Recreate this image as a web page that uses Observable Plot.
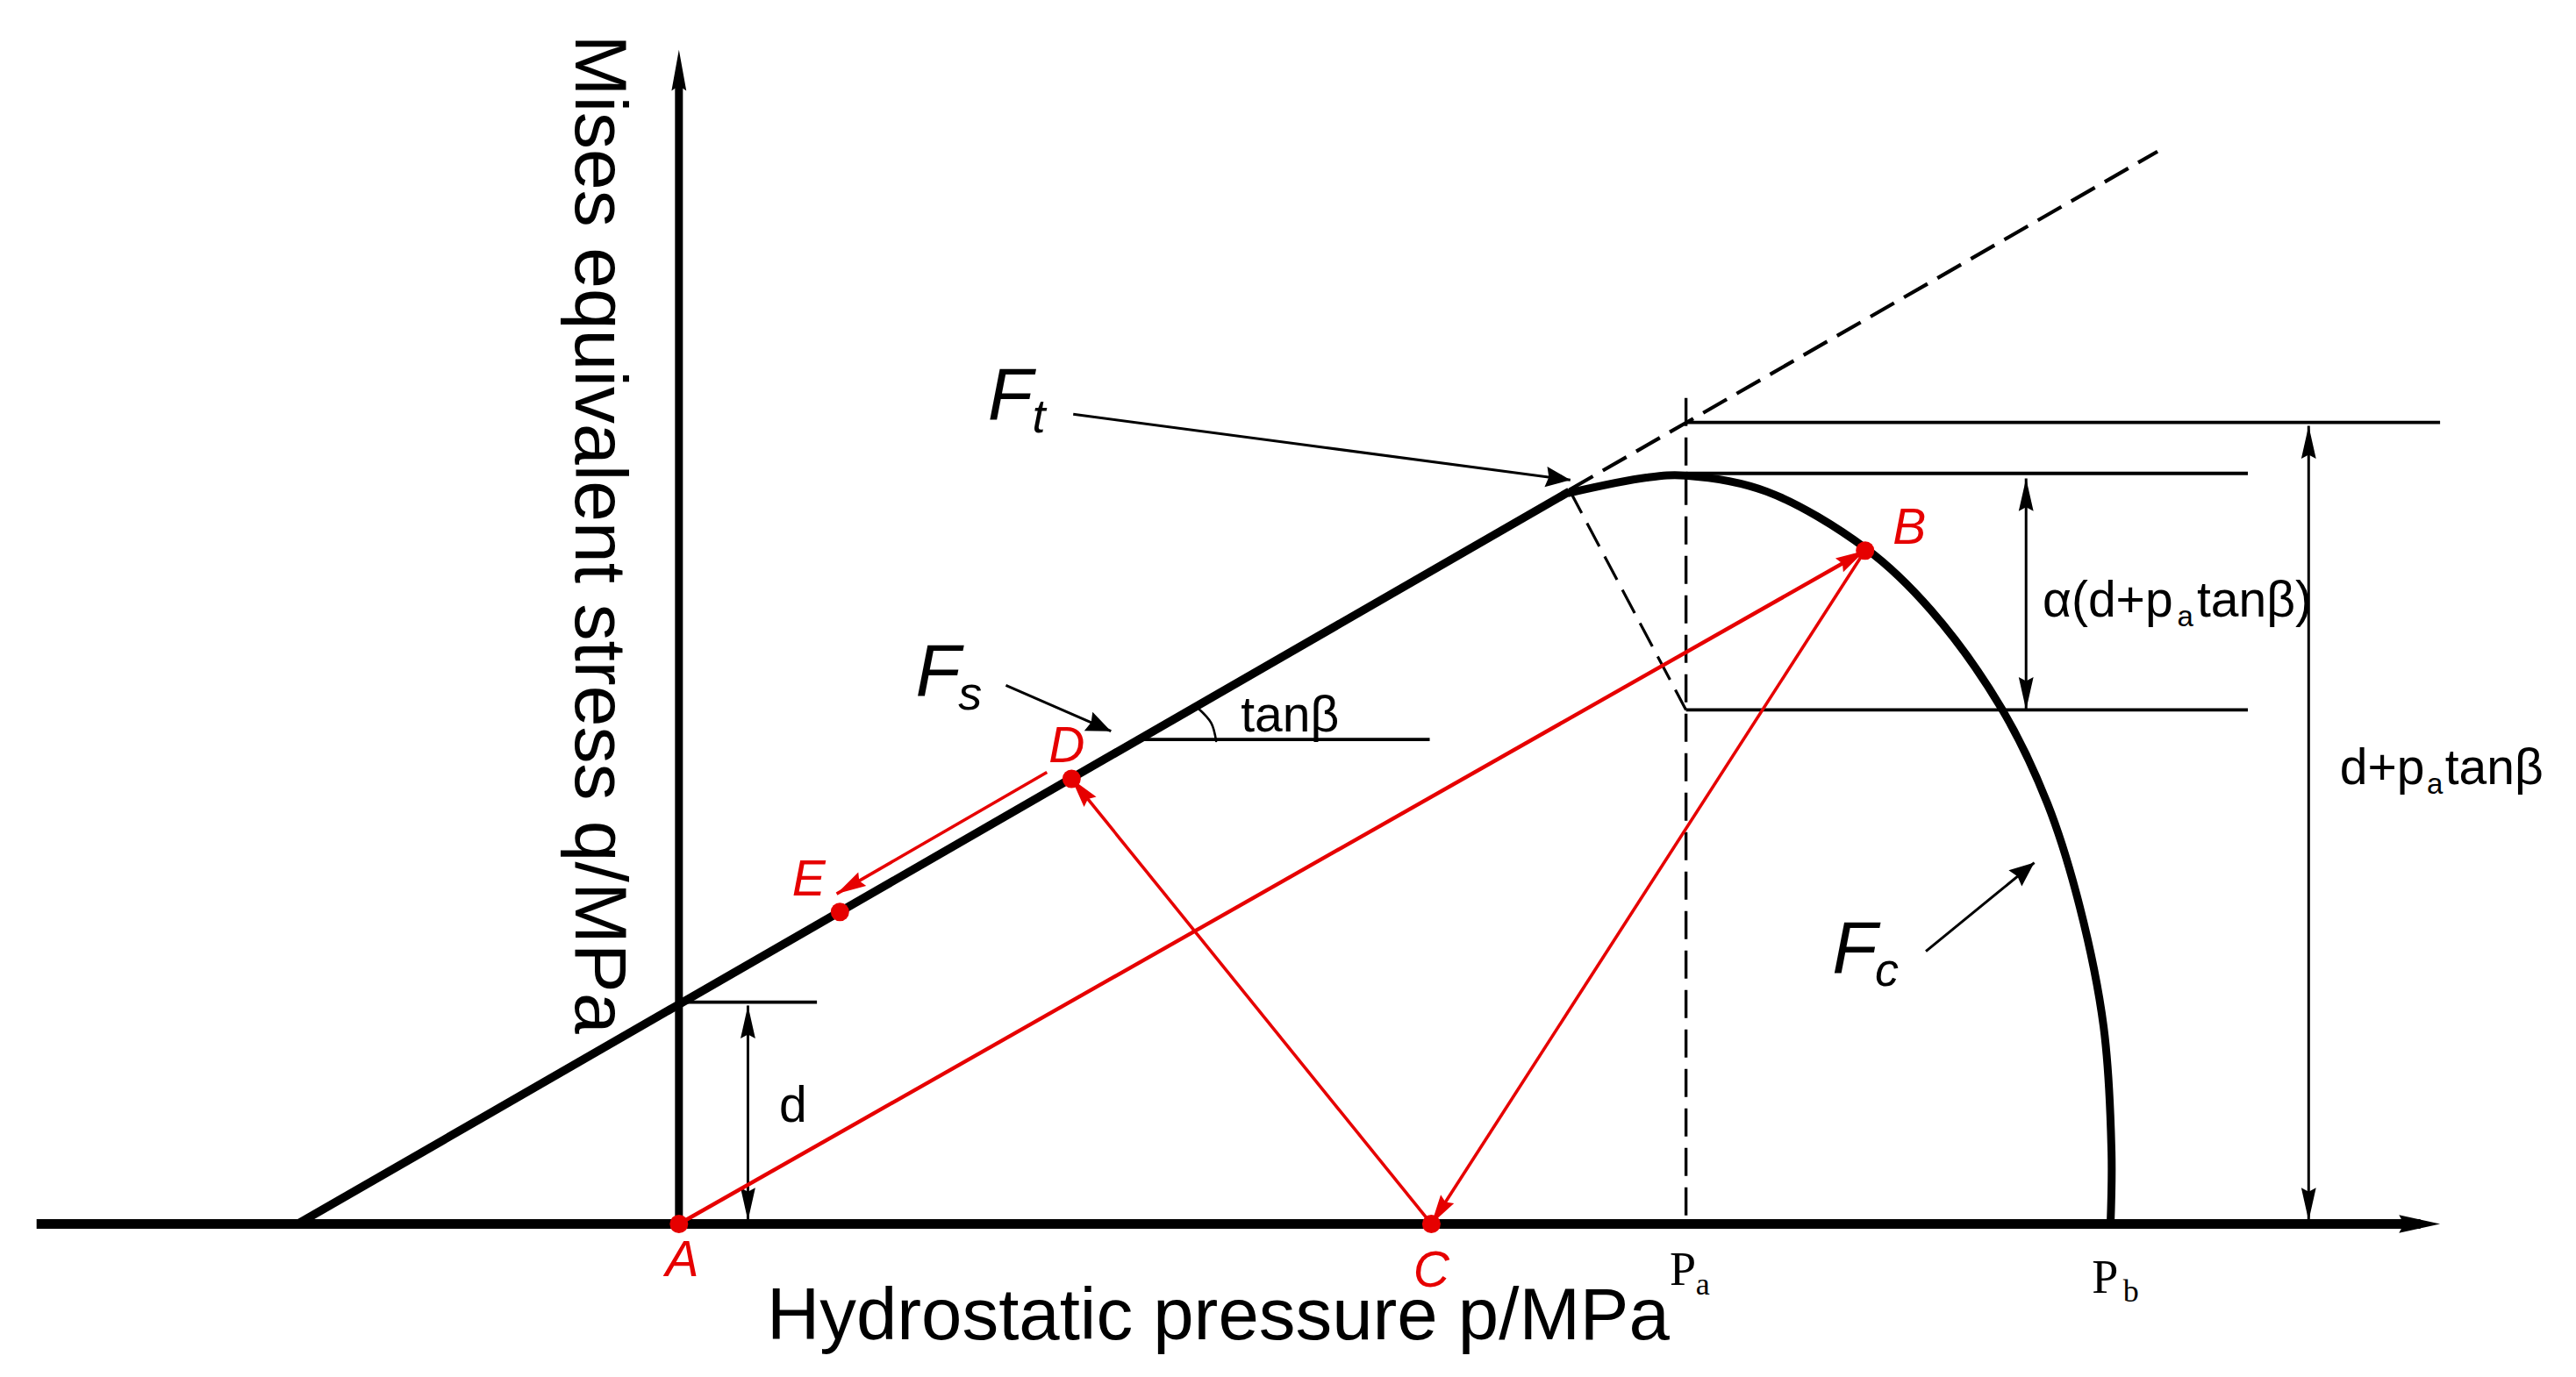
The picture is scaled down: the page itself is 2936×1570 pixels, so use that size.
<!DOCTYPE html>
<html>
<head>
<meta charset="utf-8">
<script src="https://cdn.jsdelivr.net/npm/d3@7"></script>
<script src="https://cdn.jsdelivr.net/npm/@observablehq/plot@0.6"></script>
<style>html,body{margin:0;padding:0;background:#fff}svg{display:block}</style>
</head>
<body>
<div id="chart"></div>
<script>
// Values are in chart units, with the origin at point A
const pointA = [0, 0], pointB = [722, 410], pointC = [458, 0], pointD = [239, 271], pointE = [98, 190];
const redPoints = [pointA, pointB, pointC, pointD, pointE];

const axisX = [[-391, 0], [1060, 0]];
const axisY = [[0, 0], [0, 695]];
const shearLine = [[-232, 0], [542, 446]];
const shearExtension = [[542, 447, 900, 653]];
const capCurve = [[541, 445], [589, 454.5], [613, 455.7], [662, 446], [722.8, 411], [762, 373.8], [805, 314], [833, 256], [852.7, 193], [867.2, 120], [872, 44], [871.4, 0]];
const paLine = [[613, 503, 613, 0]];
const transitionLine = [[542, 447, 613, 313]];
const levelLines = [[613, 488, 1072, 488], [613, 457, 955, 457], [613, 313, 955, 313], [0, 135, 84, 135], [280, 295, 457, 295]];
const angleArc = [[327, 294], [324, 305], [316, 314]];

const dimSpans = [[820, 454, 820, 313], [992, 486, 992, 2], [42, 133, 42, 2]];
const noteArrows = [[240, 493, 542.6, 453], [199, 328, 263, 300], [759, 166, 825, 220]];
const redThick = [[0, 0, 722, 410]];
const redThin = [[722, 410, 458, 0], [458, 0, 239, 271], [224, 275, 96, 201]];

const sansLabels = [["tanβ", 342, 300], ["d", 61, 62], ["tanβ)", 924, 370], ["tanβ", 1075, 268]];
const sansLead = [["α(d+p", 830, 370], ["d+p", 1011, 268]];
const smallSubs = [["a", 912, 364], ["a", 1064, 262]];
const bigF = [["F", 188, 490], ["F", 144, 322], ["F", 702, 153]];
const fSubs = [["t", 215, 482], ["s", 170, 313], ["c", 728, 145]];
const redLabels = [["A", 2, -32], ["B", 749, 414], ["C", 458, -38], ["D", 236, 281], ["E", 79, 200]];
const serifP = [["P", 603, -37], ["P", 860, -42]];
const serifSubs = [["a", 619, -43], ["b", 879, -47.5]];

function head(tipX, tipY, fromX, fromY, len, half, id) {
  const dx = tipX - fromX, dy = tipY - fromY, d = Math.hypot(dx, dy), ux = dx / d, uy = dy / d;
  const bx = tipX - ux * len, by = tipY - uy * len;
  const nx = tipX - ux * len * 0.88, ny = tipY - uy * len * 0.88;
  return [
    [tipX, tipY, id], [bx - uy * half, by + ux * half, id], [nx, ny, id], [bx + uy * half, by - ux * half, id]
  ];
}
const blackHeads = [
  ...head(1072, 0, 1000, 0, 25, 5.5, "ax"),
  ...head(0, 715, 0, 600, 25, 4.5, "ay"),
  ...dimSpans.flatMap((s, i) => [
    ...head(s[0], s[1], s[2], s[3], 20, 4.5, "d" + i + "a"),
    ...head(s[2], s[3], s[0], s[1], 20, 4.5, "d" + i + "b")
  ]),
  ...noteArrows.map((s, i) => head(s[2], s[3], s[0], s[1], 15, 6.3, "n" + i)).flat()
];
const redHeads = [...redThick, ...redThin].map((s, i) => head(s[2], s[3], s[0], s[1], 18, 4.8, "r" + i)).flat();

const link = (rows, o) => Plot.link(rows, {x1: d => d[0], y1: d => d[1], x2: d => d[2], y2: d => d[3], ...o});
const line = (rows, o) => Plot.line(rows, {x: d => d[0], y: d => d[1], ...o});
const text = (rows, o) => Plot.text(rows, {
  text: d => d[0], x: d => d[1], y: d => d[2], textAnchor: "start", lineAnchor: "bottom",
  fontFamily: "Liberation Sans", fill: "black", ...o
});
const red = "#e60000";

const chart = Plot.plot({
  width: 2936, height: 1570,
  marginTop: 0, marginRight: 0, marginBottom: 0, marginLeft: 0,
  x: {domain: [-413, 1155], range: [0, 2936], axis: null},
  y: {domain: [745, -93.47], range: [0, 1570], axis: null},
  style: {background: "white"},
  marks: [
    link(paLine, {stroke: "black", strokeWidth: 3.4, strokeDasharray: "32 13"}),
    link(transitionLine, {stroke: "black", strokeWidth: 3.2, strokeDasharray: "30 13"}),
    link(shearExtension, {stroke: "black", strokeWidth: 4.2, strokeDasharray: "31 13"}),
    link(levelLines, {stroke: "black", strokeWidth: 3.8}),
    line(angleArc, {stroke: "black", strokeWidth: 2.6, curve: "catmull-rom"}),
    link(dimSpans, {stroke: "black", strokeWidth: 3}),
    link(noteArrows, {stroke: "black", strokeWidth: 3}),
    line(axisX, {stroke: "black", strokeWidth: 11, strokeLinecap: "butt"}),
    line(axisY, {stroke: "black", strokeWidth: 9, strokeLinecap: "butt"}),
    line(shearLine, {stroke: "black", strokeWidth: 9.5, strokeLinecap: "butt"}),
    line(capCurve, {stroke: "black", strokeWidth: 9, curve: "catmull-rom", strokeLinecap: "butt"}),
    line(blackHeads, {z: d => d[2], fill: "black", stroke: "none"}),
    link(redThick, {stroke: red, strokeWidth: 4.4}),
    link(redThin, {stroke: red, strokeWidth: 3.6}),
    line(redHeads, {z: d => d[2], fill: red, stroke: "none"}),
    Plot.dot(redPoints, {x: d => d[0], y: d => d[1], r: 10.5, fill: red, stroke: "none"}),
    text([["Mises equivalent stress q/MPa", -63, 420]], {fontSize: 84, rotate: 90, textAnchor: "middle"}),
    text([["Hydrostatic pressure p/MPa", 53.5, -70]], {fontSize: 83.4}),
    text(sansLabels, {fontSize: 57}),
    text(sansLead, {fontSize: 57}),
    text(smallSubs, {fontSize: 33}),
    text(bigF, {fontSize: 84, fontStyle: "italic"}),
    text(fSubs, {fontSize: 54, fontStyle: "italic"}),
    text(redLabels, {fontSize: 57, fontStyle: "italic", fill: red, textAnchor: "middle"}),
    text(serifP, {fontSize: 54, fontFamily: "Liberation Serif"}),
    text(serifSubs, {fontSize: 36, fontFamily: "Liberation Serif"})
  ]
});
document.getElementById("chart").append(chart);
</script>
</body>
</html>
